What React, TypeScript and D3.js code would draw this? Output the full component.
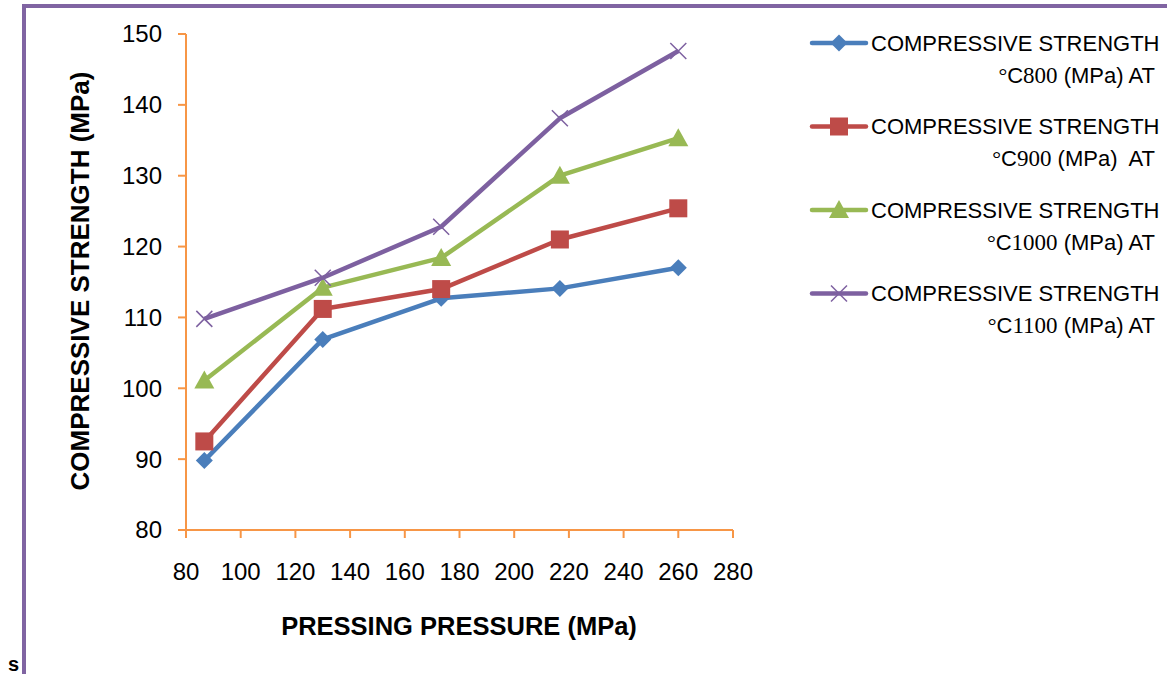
import React from 'react';
import * as d3 from 'd3';

// pressing pressure (MPa)
const PRESSURES = [86.7, 130, 173.3, 216.7, 260];

const S800 = [89.8, 106.9, 112.7, 114.1, 117.0];
const S900 = [92.5, 111.2, 114.0, 121.0, 125.4];
const S1000 = [101.1, 114.2, 118.4, 130.0, 135.3];
const S1100 = [109.8, 115.6, 122.8, 138.1, 147.6];

const TEMPS = ['800', '900', '1000', '1100'];
const Y_TICKS = [80, 90, 100, 110, 120, 130, 140, 150];
const X_TICKS = [80, 100, 120, 140, 160, 180, 200, 220, 240, 260, 280];

const SERIES = [
  { temp: TEMPS[0], values: S800, color: '#4A7EBB', marker: 'diamond', gap: ' ' },
  { temp: TEMPS[1], values: S900, color: '#BE4B48', marker: 'square', gap: '  ' },
  { temp: TEMPS[2], values: S1000, color: '#98B954', marker: 'triangle', gap: ' ' },
  { temp: TEMPS[3], values: S1100, color: '#7D60A0', marker: 'x', gap: ' ' },
];

const AXIS_COLOR = '#F79646';
const SANS = '"Liberation Sans", Arial, sans-serif';
const SERIF = '"Liberation Serif", "Times New Roman", serif';

const xScale = d3.scaleLinear().domain([80, 280]).range([186, 733]);
const yScale = d3.scaleLinear().domain([80, 150]).range([530, 34]);

const Marker = ({ type, x, y, color }: { type: string; x: number; y: number; color: string }) => {
  if (type === 'diamond') {
    const s = 8.5;
    return <path d={`M${x},${y - s}L${x + s},${y}L${x},${y + s}L${x - s},${y}Z`} fill={color} />;
  }
  if (type === 'square') {
    const s = 9;
    return <rect x={x - s} y={y - s} width={2 * s} height={2 * s} fill={color} />;
  }
  if (type === 'triangle') {
    const s = 10;
    return <path d={`M${x},${y - s}L${x + s},${y + s * 0.8}L${x - s},${y + s * 0.8}Z`} fill={color} />;
  }
  const s = 8;
  return (
    <path
      d={`M${x - s},${y - s}L${x + s},${y + s}M${x - s},${y + s}L${x + s},${y - s}`}
      stroke={color}
      strokeWidth={1.5}
      fill="none"
    />
  );
};

const App = () => {
  const line = d3
    .line<number>()
    .x((_, i) => xScale(PRESSURES[i]))
    .y((d) => yScale(d));

  return (
    <svg
      width={1167}
      height={674}
      style={{ position: 'absolute', left: 0, top: 0, background: '#fff' }}
    >
      {/* frame */}
      <path d="M24,674V6H1167" fill="none" stroke="#8064A2" strokeWidth={4} />
      <text x={8} y={671} fontFamily={SANS} fontWeight="bold" fontSize={20}>
        s
      </text>

      {/* y axis */}
      <line x1={186} x2={186} y1={yScale(150)} y2={yScale(80)} stroke={AXIS_COLOR} strokeWidth={2} />
      {Y_TICKS.map((t) => (
        <g key={'y' + t}>
          <line x1={178} x2={186} y1={yScale(t)} y2={yScale(t)} stroke={AXIS_COLOR} strokeWidth={2} />
          <text
            x={162}
            y={yScale(t)}
            dy="0.35em"
            textAnchor="end"
            fontFamily={SANS}
            fontSize={24}
            fill="#000"
          >
            {t}
          </text>
        </g>
      ))}

      {/* x axis */}
      <line x1={xScale(80) - 8} x2={xScale(280)} y1={530} y2={530} stroke={AXIS_COLOR} strokeWidth={2} />
      {X_TICKS.map((t) => (
        <g key={'x' + t}>
          <line x1={xScale(t)} x2={xScale(t)} y1={530} y2={538} stroke={AXIS_COLOR} strokeWidth={2} />
          <text
            x={xScale(t)}
            y={572}
            dy="0.35em"
            textAnchor="middle"
            fontFamily={SANS}
            fontSize={24}
            fill="#000"
          >
            {t}
          </text>
        </g>
      ))}

      {/* axis titles */}
      <text
        transform={`translate(80,${281}) rotate(-90)`}
        textAnchor="middle"
        dy="0.35em"
        fontFamily={SANS}
        fontWeight="bold"
        fontSize={26}
      >
        COMPRESSIVE STRENGTH (MPa)
      </text>
      <text x={459} y={626} dy="0.35em" textAnchor="middle" fontFamily={SANS} fontWeight="bold" fontSize={25.5}>
        PRESSING PRESSURE (MPa)
      </text>

      {/* series */}
      {SERIES.map((s) => (
        <g key={s.temp}>
          <path d={line(s.values) || ''} fill="none" stroke={s.color} strokeWidth={4.5} strokeLinejoin="round" />
          {s.values.map((v, i) => (
            <Marker key={i} type={s.marker} x={xScale(PRESSURES[i])} y={yScale(v)} color={s.color} />
          ))}
        </g>
      ))}

      {/* legend */}
      {SERIES.map((s, i) => {
        const ly = 43 + i * 83.5;
        return (
          <g key={'lg' + s.temp}>
            <line x1={812} x2={866} y1={ly} y2={ly} stroke={s.color} strokeWidth={4.5} strokeLinecap="round" />
            <Marker type={s.marker} x={839} y={ly} color={s.color} />
            <text x={871} y={ly} dy="0.35em" fontFamily={SANS} fontSize={22}>
              COMPRESSIVE STRENGTH
            </text>
            <text x={1155} y={ly + 32} dy="0.35em" textAnchor="end" fontSize={22}>
              <tspan fontFamily={SERIF}>°</tspan>
              <tspan fontFamily={SANS}>C</tspan>
              <tspan fontFamily={SERIF} fontSize={23}>{s.temp}</tspan>
              <tspan fontFamily={SANS} style={{ whiteSpace: 'pre' }}>{' (MPa)' + s.gap + 'AT'}</tspan>
            </text>
          </g>
        );
      })}
    </svg>
  );
};

export default App;
